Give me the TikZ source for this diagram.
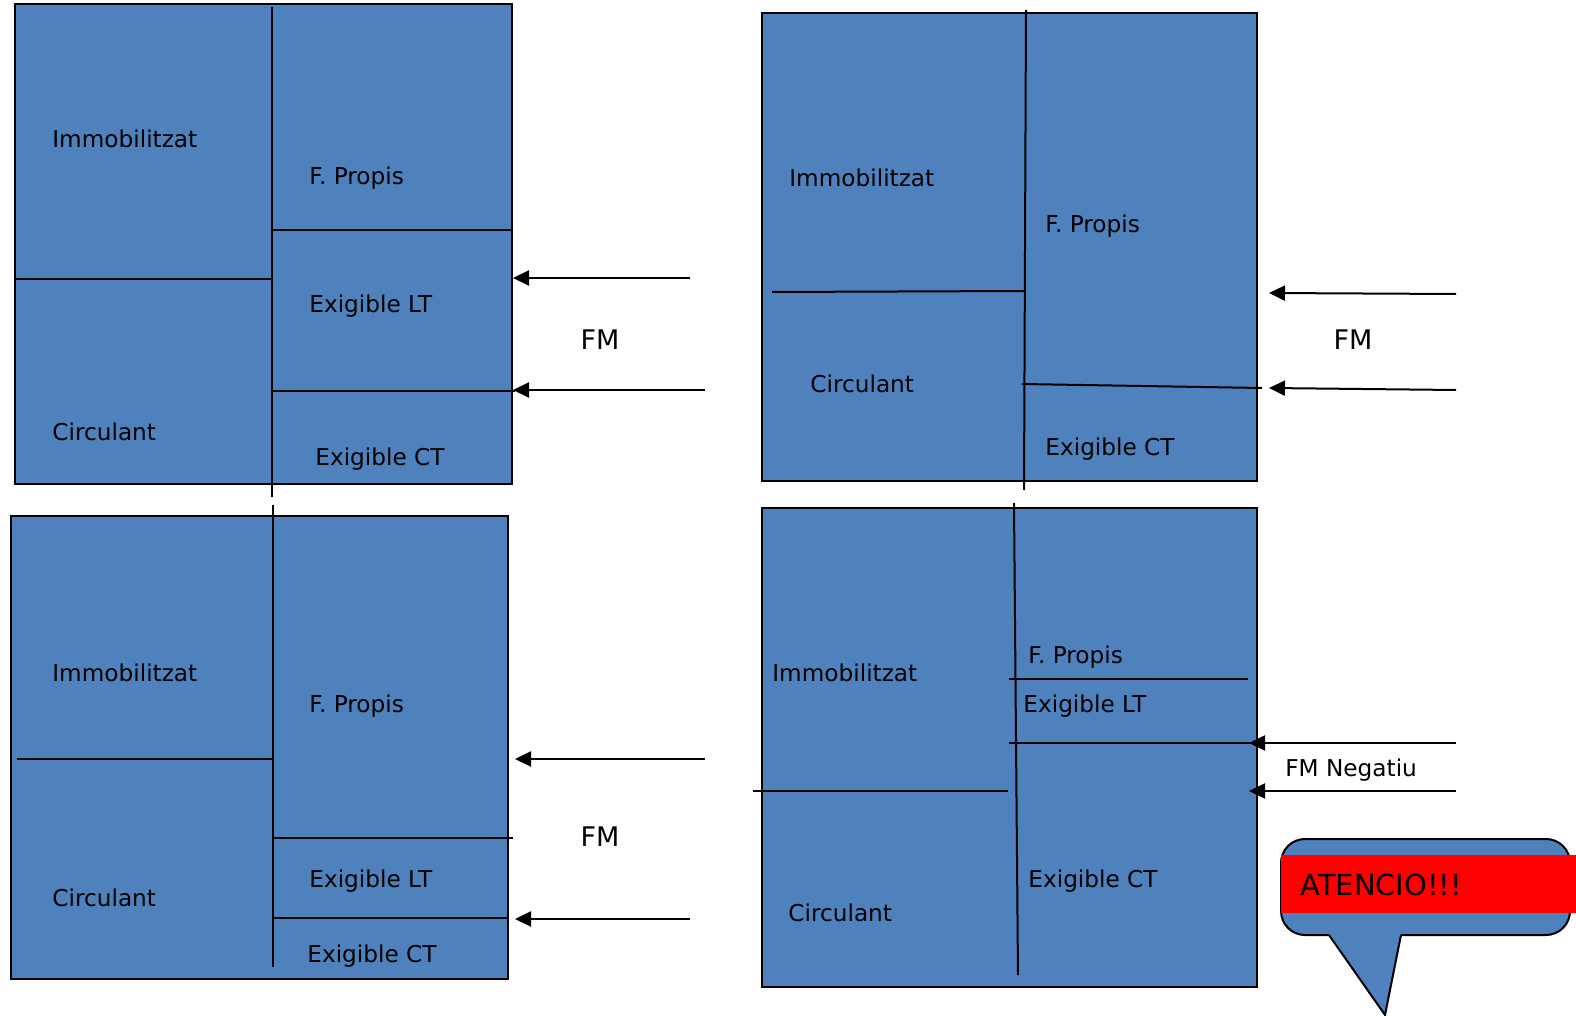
\documentclass[tikz,border=0pt]{standalone}
\usepackage{fontspec}
\setmainfont{DejaVu Sans}
\usetikzlibrary{arrows.meta}
\definecolor{boxblue}{HTML}{4F81BD}
\tikzset{
  balance/.style={draw=black, fill=boxblue, line width=1pt},
  divider/.style={draw=black, line width=1pt},
  flow/.style={line width=1pt, -{Triangle[length=8pt,width=7.5pt]}},
  txt/.style={anchor=west, inner sep=0pt, font=\fontsize{11.6}{14}\selectfont},
  fmtxt/.style={inner sep=0pt, font=\fontsize{13.5}{16}\selectfont}
}
\begin{document}
\begin{tikzpicture}[x=0.5pt, y=-0.5pt]
  \useasboundingbox (0,0) rectangle (1576,1016);
% top left
  \draw [balance] (15,4) rectangle (512,484);
  \draw [divider] (272,7) -- (272,497);
  \draw [divider] (15,279) -- (272,279);
  \draw [divider] (272,230) -- (513,230);
  \draw [divider] (272,391) -- (515,391);
  \node (imm1) at (52,139) [txt] {Immobilitzat};
  \node (circ1) at (52,432) [txt] {Circulant};
  \node (fp1) at (309,178) [txt] {F. Propis};
  \node (elt1) at (309,306) [txt] {Exigible LT};
  \node (ect1) at (315,459) [txt] {Exigible CT};
  \coordinate (a1s) at (690,278);
  \coordinate (a1e) at (513,278);
  \coordinate (b1s) at (705,390);
  \coordinate (b1e) at (513,390);
  \draw [flow] (a1s) -- (a1e);
  \draw [flow] (b1s) -- (b1e);
  \node (fm1) at (600,340) [fmtxt] {FM};

% top right
  \draw [balance] (762,13) rectangle (1257,481);
  \draw [divider] (1026,10) -- (1024,490);
  \draw [divider] (772,292) -- (1024,291);
  \draw [divider] (1022,384) -- (1262,388);
  \node (imm2) at (789,178) [txt] {Immobilitzat};
  \node (circ2) at (810,384) [txt] {Circulant};
  \node (fp2) at (1045,226) [txt] {F. Propis};
  \node (ect2) at (1045,449) [txt] {Exigible CT};
  \coordinate (a2s) at (1456,294);
  \coordinate (a2e) at (1269,293);
  \coordinate (b2s) at (1456,390);
  \coordinate (b2e) at (1269,388);
  \draw [flow] (a2s) -- (a2e);
  \draw [flow] (b2s) -- (b2e);
  \node (fm2) at (1353,340) [fmtxt] {FM};

% bottom left
  \draw [balance] (11,516) rectangle (508,979);
  \draw [divider] (273,505) -- (273,967);
  \draw [divider] (17,759) -- (273,759);
  \draw [divider] (273,838) -- (513,838);
  \draw [divider] (273,918) -- (508,918);
  \node (imm3) at (52,673) [txt] {Immobilitzat};
  \node (circ3) at (52,898) [txt] {Circulant};
  \node (fp3) at (309,706) [txt] {F. Propis};
  \node (elt3) at (309,881) [txt] {Exigible LT};
  \node (ect3) at (307,956) [txt] {Exigible CT};
  \coordinate (a3s) at (705,759);
  \coordinate (a3e) at (515,759);
  \coordinate (b3s) at (690,919);
  \coordinate (b3e) at (515,919);
  \draw [flow] (a3s) -- (a3e);
  \draw [flow] (b3s) -- (b3e);
  \node (fm3) at (600,837) [fmtxt] {FM};

% bottom right
  \draw [balance] (762,508) rectangle (1257,987);
  \draw [divider] (1014,503) -- (1018,975);
  \draw [divider] (753,791) -- (1008,791);
  \draw [divider] (1009,679) -- (1248,679);
  \draw [divider] (1009,743) -- (1257,743);
  \node (imm4) at (772,673) [txt] {Immobilitzat};
  \node (circ4) at (788,913) [txt] {Circulant};
  \node (fp4) at (1028,657) [txt] {F. Propis};
  \node (elt4) at (1023,706) [txt] {Exigible LT};
  \node (ect4) at (1028,881) [txt] {Exigible CT};
  \coordinate (a4s) at (1456,743);
  \coordinate (a4e) at (1249,743);
  \coordinate (b4s) at (1456,791);
  \coordinate (b4e) at (1249,791);
  \draw [flow] (a4s) -- (a4e);
  \draw [flow] (b4s) -- (b4e);
  \node (fmneg) at (1285,770) [txt] {FM Negatiu};

% callout
  \fill [boxblue, rounded corners=12] (1281,839) rectangle (1570,935);
  \fill [boxblue] (1329,933) -- (1385,1015) -- (1401,933) -- cycle;
  \draw [divider, rounded corners=12] (1329,935) -| (1281,839) -| (1570,935) -- (1401,935);
  \draw [divider, line join=miter] (1329,935) -- (1385,1015) -- (1401,935);
  \fill [red] (1281,855) rectangle (1576,913);
  \node (warn) at (1300,885) [txt, font=\fontsize{14.5}{17}\selectfont] {ATENCIO!!!};
\end{tikzpicture}
\end{document}
